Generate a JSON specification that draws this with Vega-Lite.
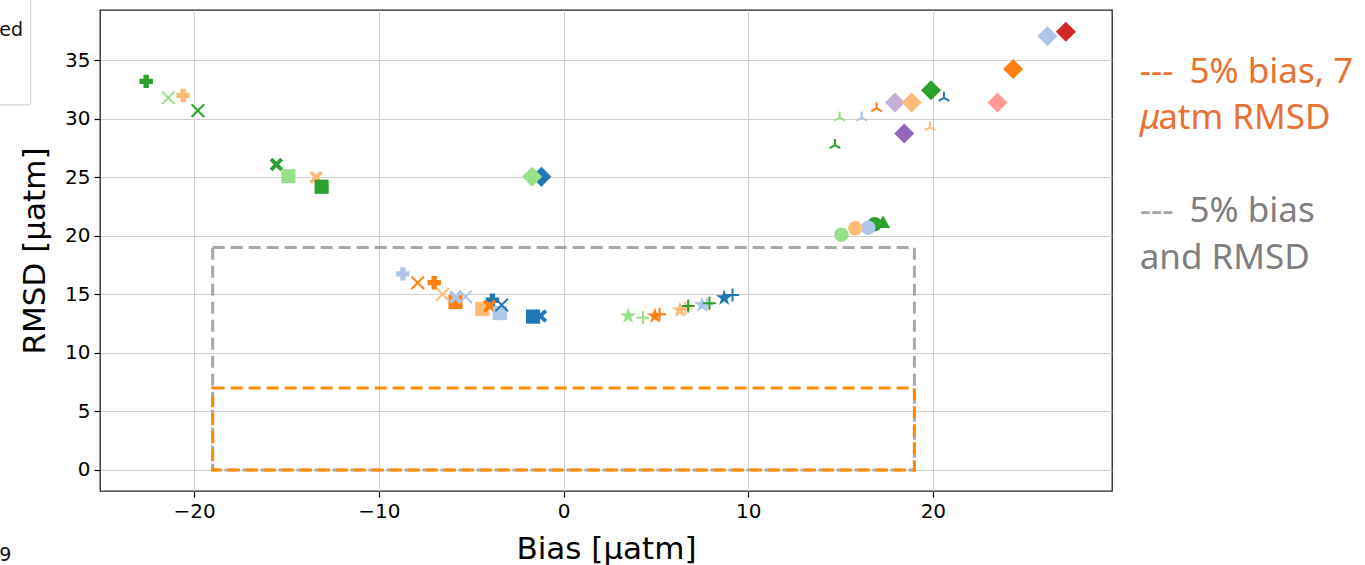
{
  "$schema": "https://vega.github.io/schema/vega-lite/v6.json",
  "width": 1012,
  "height": 481,
  "autosize": {"type": "none"},
  "padding": {"left": 100, "top": 10, "right": 253, "bottom": 74},
  "background": "white",
  "config": {
    "view": {"stroke": "#222222", "strokeWidth": 1.3},
    "axis": {
      "labelFont": "DejaVu Sans", "labelFontSize": 20, "labelColor": "#000000",
      "titleFont": "DejaVu Sans", "titleFontSize": 31, "titleFontWeight": "normal", "titleColor": "#000000",
      "tickColor": "#000000", "tickSize": 6, "tickWidth": 1.2, "domain": false,
      "gridColor": "#cfcfcf", "gridWidth": 1, "labelPadding": 4
    }
  },
  "encoding": {
    "x": {"field": "x", "type": "quantitative",
      "scale": {"domain": [-25.1, 29.7], "nice": false, "zero": false},
      "axis": {"values": [-20, -10, 0, 10, 20], "title": "Bias [μatm]", "titlePadding": 13}},
    "y": {"field": "y", "type": "quantitative",
      "scale": {"domain": [-1.8, 39.3], "nice": false, "zero": false},
      "axis": {"values": [0, 5, 10, 15, 20, 25, 30, 35], "title": "RMSD [μatm]", "titlePadding": 13}},
    "color": {"field": "model", "type": "nominal",
      "scale": {"domain": ["A1", "A2", "B1", "B2", "C1", "C2", "D1", "D2", "E1", "E2"],
        "range": ["#1f77b4", "#aec7e8", "#ff7f0e", "#ffbb78", "#2ca02c", "#98df8a", "#d62728", "#ff9896", "#9467bd", "#c5b0d5"]},
      "legend": null}
  },
  "layer": [
    {
      "data": {"values": [
        {"box": "5% bias and RMSD", "x": -19, "x2": 19, "y": 0, "y2": 19},
        {"box": "5% bias, 7 μatm RMSD", "x": -19, "x2": 19, "y": 0, "y2": 7}
      ]},
      "mark": {"type": "rect", "fill": null, "fillOpacity": 0, "strokeWidth": 3, "strokeDash": [12, 6], "clip": false},
      "encoding": {
        "x2": {"field": "x2"},
        "y2": {"field": "y2"},
        "color": null,
        "stroke": {"field": "box", "type": "nominal",
          "scale": {"domain": ["5% bias and RMSD", "5% bias, 7 μatm RMSD"], "range": ["#a9a9a9", "#ff8c00"]},
          "legend": null}
      }
    },
    {
      "data": {"values": [
        {"method": "a", "model": "C1", "x": -22.6, "y": 33.2},
        {"method": "a", "model": "B2", "x": -20.6, "y": 32.0},
        {"method": "d", "model": "C1", "x": -15.55, "y": 26.1},
        {"method": "c", "model": "C2", "x": -14.9, "y": 25.1},
        {"method": "d", "model": "B2", "x": -13.4, "y": 25.0},
        {"method": "c", "model": "C1", "x": -13.1, "y": 24.2},
        {"method": "a", "model": "A2", "x": -8.7, "y": 16.75},
        {"method": "a", "model": "B1", "x": -7.0, "y": 16.0},
        {"method": "c", "model": "B1", "x": -5.85, "y": 14.35},
        {"method": "d", "model": "A2", "x": -5.85, "y": 14.75},
        {"method": "a", "model": "A1", "x": -3.85, "y": 14.5},
        {"method": "c", "model": "B2", "x": -4.4, "y": 13.75},
        {"method": "d", "model": "B1", "x": -4.0, "y": 14.0},
        {"method": "c", "model": "A2", "x": -3.45, "y": 13.4},
        {"method": "c", "model": "A1", "x": -1.65, "y": 13.1},
        {"method": "d", "model": "A1", "x": -1.25, "y": 13.15},
        {"method": "e", "model": "A1", "x": -1.2, "y": 25.05},
        {"method": "e", "model": "C2", "x": -1.7, "y": 25.05},
        {"method": "f", "model": "C2", "x": 3.5, "y": 13.15},
        {"method": "f", "model": "B1", "x": 4.95, "y": 13.15},
        {"method": "f", "model": "B2", "x": 6.3, "y": 13.65},
        {"method": "f", "model": "A2", "x": 7.5, "y": 14.1},
        {"method": "f", "model": "A1", "x": 8.7, "y": 14.7},
        {"method": "h", "model": "C1", "x": 16.85, "y": 21.0},
        {"method": "i", "model": "C1", "x": 17.3, "y": 21.2},
        {"method": "h", "model": "A2", "x": 16.5, "y": 20.7},
        {"method": "h", "model": "B2", "x": 15.8, "y": 20.65},
        {"method": "h", "model": "C2", "x": 15.05, "y": 20.1},
        {"method": "e", "model": "E2", "x": 17.95, "y": 31.4},
        {"method": "e", "model": "B2", "x": 18.85, "y": 31.4},
        {"method": "e", "model": "E1", "x": 18.45, "y": 28.75},
        {"method": "e", "model": "C1", "x": 19.9, "y": 32.45},
        {"method": "e", "model": "D2", "x": 23.5, "y": 31.4},
        {"method": "e", "model": "B1", "x": 24.35, "y": 34.25},
        {"method": "e", "model": "A2", "x": 26.2, "y": 37.05},
        {"method": "e", "model": "D1", "x": 27.2, "y": 37.45}
      ]},
      "mark": {"type": "point", "filled": true, "opacity": 1, "strokeWidth": 0, "clip": false},
      "encoding": {
        "shape": {"field": "method", "type": "nominal",
          "scale": {"domain": ["a", "b", "c", "d", "e", "f", "g", "h", "i", "j"],
            "range": ["cross", "M-1,-1L1,1M-1,1L1,-1", "square",
              "M-1,-0.6L-0.6,-1L0,-0.4L0.6,-1L1,-0.6L0.4,0L1,0.6L0.6,1L0,0.4L-0.6,1L-1,0.6L-0.4,0Z",
              "M0,-1L1,0L0,1L-1,0Z",
              "M0,-1L0.223,-0.307L0.951,-0.309L0.361,0.117L0.588,0.809L0,0.38L-0.588,0.809L-0.361,0.117L-0.951,-0.309L-0.223,-0.307Z",
              "M-1,0L1,0M0,-1L0,1", "circle", "triangle-up", "M0,0L0,-1M0,0L0.866,0.5M0,0L-0.866,0.5"]},
          "legend": null},
        "size": {"field": "method", "type": "nominal",
          "scale": {"type": "ordinal", "domain": ["a", "b", "c", "d", "e", "f", "g", "h", "i", "j"],
            "range": [180, 160, 200, 180, 400, 300, 170, 210, 210, 150]},
          "legend": null}
      }
    },
    {
      "data": {"values": [
        {"method": "b", "model": "C2", "x": -21.4, "y": 31.8},
        {"method": "b", "model": "C1", "x": -19.8, "y": 30.7},
        {"method": "b", "model": "B1", "x": -7.9, "y": 16.0},
        {"method": "b", "model": "B2", "x": -6.55, "y": 15.0},
        {"method": "b", "model": "A2", "x": -5.3, "y": 14.8},
        {"method": "b", "model": "A1", "x": -3.35, "y": 14.1},
        {"method": "g", "model": "C2", "x": 4.3, "y": 13.0},
        {"method": "g", "model": "B1", "x": 5.2, "y": 13.3},
        {"method": "g", "model": "B2", "x": 6.6, "y": 13.8},
        {"method": "g", "model": "C1", "x": 6.75, "y": 14.0},
        {"method": "g", "model": "A2", "x": 7.75, "y": 14.15},
        {"method": "g", "model": "C1", "x": 7.9, "y": 14.25},
        {"method": "g", "model": "A1", "x": 9.15, "y": 14.95},
        {"method": "j", "model": "C2", "x": 14.95, "y": 30.1},
        {"method": "j", "model": "C1", "x": 14.7, "y": 27.75},
        {"method": "j", "model": "A2", "x": 16.15, "y": 30.1},
        {"method": "j", "model": "B1", "x": 16.95, "y": 30.9},
        {"method": "j", "model": "B2", "x": 19.85, "y": 29.3},
        {"method": "j", "model": "A1", "x": 20.6, "y": 31.8}
      ]},
      "mark": {"type": "point", "filled": false, "opacity": 1, "strokeWidth": 2, "clip": false},
      "encoding": {
        "shape": {"field": "method", "type": "nominal",
          "scale": {"domain": ["a", "b", "c", "d", "e", "f", "g", "h", "i", "j"],
            "range": ["cross", "M-1,-1L1,1M-1,1L1,-1", "square",
              "M-1,-0.6L-0.6,-1L0,-0.4L0.6,-1L1,-0.6L0.4,0L1,0.6L0.6,1L0,0.4L-0.6,1L-1,0.6L-0.4,0Z",
              "M0,-1L1,0L0,1L-1,0Z",
              "M0,-1L0.223,-0.307L0.951,-0.309L0.361,0.117L0.588,0.809L0,0.38L-0.588,0.809L-0.361,0.117L-0.951,-0.309L-0.223,-0.307Z",
              "M-1,0L1,0M0,-1L0,1", "circle", "triangle-up", "M0,0L0,-1M0,0L0.866,0.5M0,0L-0.866,0.5"]},
          "legend": null},
        "size": {"field": "method", "type": "nominal",
          "scale": {"type": "ordinal", "domain": ["a", "b", "c", "d", "e", "f", "g", "h", "i", "j"],
            "range": [180, 160, 200, 180, 400, 300, 170, 210, 210, 150]},
          "legend": null}
      }
    },
    {
      "data": {"values": [
        {"t": "---", "x": 31.2, "y": 34.0},
        {"t": "5% bias, 7", "x": 33.9, "y": 34.0},
        {"t": "atm RMSD", "x": 32.2, "y": 30.1}
      ]},
      "mark": {"type": "text", "align": "left", "baseline": "middle", "font": "Noto Sans", "fontSize": 35, "color": "#e97132", "clip": false},
      "encoding": {"text": {"field": "t"}, "color": null}
    },
    {
      "data": {"values": [{"t": "μ", "x": 31.2, "y": 30.1}]},
      "mark": {"type": "text", "align": "left", "baseline": "middle", "font": "Noto Sans", "fontStyle": "italic", "fontSize": 35, "color": "#e97132", "clip": false},
      "encoding": {"text": {"field": "t"}, "color": null}
    },
    {
      "data": {"values": [{"t": "---", "x": 31.2, "y": 22.1}]},
      "mark": {"type": "text", "align": "left", "baseline": "middle", "font": "Noto Sans", "fontSize": 35, "color": "#a6a6a6", "clip": false},
      "encoding": {"text": {"field": "t"}, "color": null}
    },
    {
      "data": {"values": [
        {"t": "5% bias", "x": 33.9, "y": 22.1},
        {"t": "and RMSD", "x": 31.2, "y": 18.1}
      ]},
      "mark": {"type": "text", "align": "left", "baseline": "middle", "font": "Noto Sans", "fontSize": 35, "color": "#7f7f7f", "clip": false},
      "encoding": {"text": {"field": "t"}, "color": null}
    },
    {
      "data": {"values": [{"x": -31, "x2": -28.85, "y": 31.2, "y2": 41}]},
      "mark": {"type": "rect", "fill": "white", "stroke": "#d6d6d6", "strokeWidth": 1.2, "cornerRadius": 3, "clip": false},
      "encoding": {"x2": {"field": "x2"}, "y2": {"field": "y2"}, "color": null}
    },
    {
      "data": {"values": [
        {"t": "ed", "x": -30.55, "y": 37.6},
        {"t": "9", "x": -30.55, "y": -7.3}
      ]},
      "mark": {"type": "text", "align": "left", "baseline": "middle", "font": "DejaVu Sans", "fontSize": 19, "color": "#111111", "clip": false},
      "encoding": {"text": {"field": "t"}, "color": null}
    }
  ]
}
